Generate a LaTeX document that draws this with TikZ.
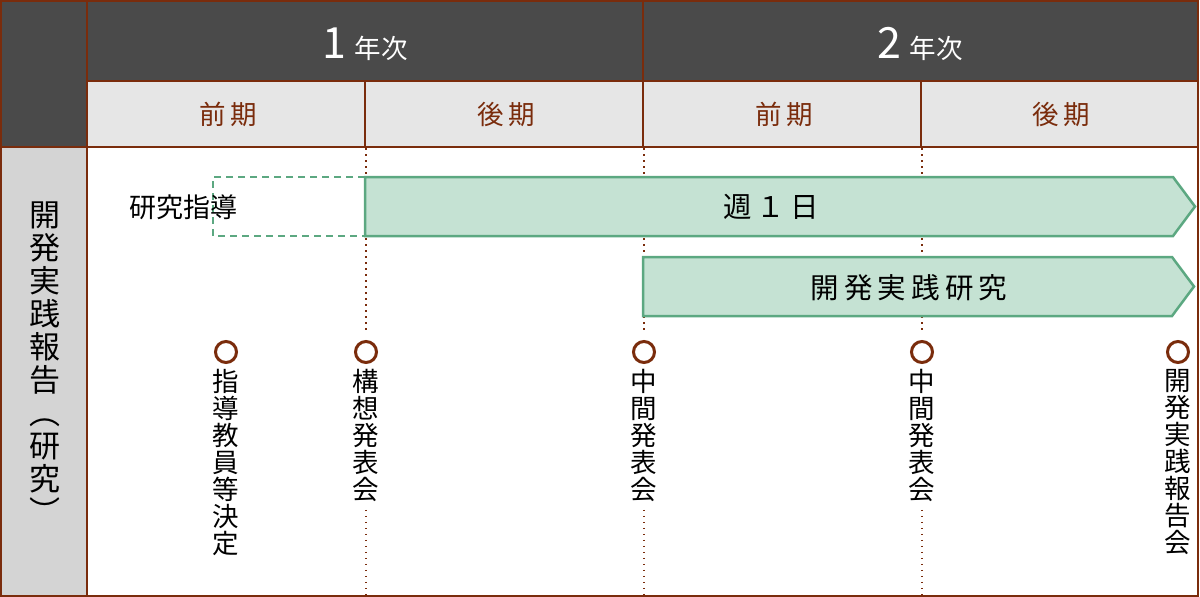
\documentclass[tikz,border=0pt]{standalone}
\usepackage{fontspec}
\setmainfont{Noto Sans CJK JP}
\newfontfamily\spacedjp[LetterSpace=18]{Noto Sans CJK JP}
\usetikzlibrary{positioning}
\definecolor{framebrown}{HTML}{7A2C0C}
\definecolor{headdark}{HTML}{4A4A4A}
\definecolor{termgray}{HTML}{E6E6E6}
\definecolor{sidegray}{HTML}{D4D4D4}
\definecolor{barfill}{HTML}{C5E2D3}
\definecolor{barline}{HTML}{5CA881}
\tikzset{
  frameline/.style={draw=framebrown, line width=2pt},
  yearlabel/.style={text=white, inner sep=0pt},
  termlabel/.style={text=framebrown, inner sep=0pt, font=\spacedjp\fontsize{26.5}{26.5}\selectfont},
  bararrow/.style={fill=barfill, draw=barline, line width=2.5pt, line join=miter},
  barlabel/.style={inner sep=0pt, font=\spacedjp\fontsize{28.5}{28.5}\selectfont},
  milestone/.style={circle, draw=framebrown, line width=3pt, minimum size=21pt, inner sep=0pt, fill=white},
  eventlabel/.style={align=center, inner sep=0pt, font=\fontsize{26.5}{27}\selectfont},
  dotline/.style={draw=framebrown, line width=1.5pt, dash pattern=on 1.5pt off 4.5pt}
}
\begin{document}
\begin{tikzpicture}[x=1pt, y=-1pt]
\useasboundingbox (0,0) rectangle (1200,597);
% header cells
\fill[headdark] (0,0) rectangle (1198,147);
\fill[termgray] (87,81) rectangle (1198,147);
\fill[sidegray] (0,147) rectangle (87,596);
% grid
\draw[frameline] (1,1) rectangle (1198,596);
\draw[frameline] (87,0) -- (87,597);
\draw[frameline] (87,81) -- (1198,81);
\draw[frameline] (0,147) -- (1198,147);
\draw[frameline] (643,0) -- (643,147);
\draw[frameline] (365,81) -- (365,147);
\draw[frameline] (921,81) -- (921,147);
% years and terms
\node[yearlabel] (year1) at (365,44) {{\fontsize{43}{43}\selectfont 1}\hspace{9pt}{\fontsize{26.5}{26.5}\selectfont 年次}};
\node[yearlabel] (year2) at (920,44) {{\fontsize{43}{43}\selectfont 2}\hspace{9pt}{\fontsize{26.5}{26.5}\selectfont 年次}};
\node[termlabel] (term1) at (228,114) {前期};
\node[termlabel] (term2) at (506,114) {後期};
\node[termlabel] (term3) at (784,114) {前期};
\node[termlabel] (term4) at (1061,114) {後期};
\node[align=center, inner sep=0pt, font=\fontsize{31}{33}\selectfont] (side) at (45,363)
  {開\\発\\実\\践\\報\\告\\︵\\研\\究\\︶};
% milestones
\node[milestone] (m1) at (226,352) {};
\node[milestone] (m2) at (366,352) {};
\node[milestone] (m3) at (644,352) {};
\node[milestone] (m4) at (922,352) {};
\node[milestone] (m5) at (1178,352) {};
\node[eventlabel, below=5pt of m1] (e1) {指\\導\\教\\員\\等\\決\\定};
\node[eventlabel, below=5pt of m2] (e2) {構\\想\\発\\表\\会};
\node[eventlabel, below=5pt of m3] (e3) {中\\間\\発\\表\\会};
\node[eventlabel, below=5pt of m4] (e4) {中\\間\\発\\表\\会};
\node[eventlabel, below=5pt of m5] (e5) {開\\発\\実\\践\\報\\告\\会};
% dotted term lines
\coordinate (top2) at (366,148);
\coordinate (top3) at (644,148);
\coordinate (top4) at (922,148);
\coordinate (bot2) at (366,597);
\coordinate (bot3) at (644,597);
\coordinate (bot4) at (922,597);
\draw[dotline, shorten >=10pt] (top2) -- (m2);
\draw[dotline, shorten >=10pt] (top3) -- (m3);
\draw[dotline, shorten >=10pt] (top4) -- (m4);
\draw[dotline, shorten <=8pt] (e2) -- (bot2);
\draw[dotline, shorten <=8pt] (e3) -- (bot3);
\draw[dotline, shorten <=8pt] (e4) -- (bot4);
% bars
\draw[draw=barline, line width=2pt, dash pattern=on 7pt off 5pt] (365,177) -- (213,177) -- (213,236) -- (365,236);
\draw[bararrow] (365,177) -- (1173,177) -- (1195,206.5) -- (1173,236) -- (365,236) -- cycle;
\draw[bararrow] (643,257) -- (1172,257) -- (1194,286.5) -- (1172,316) -- (643,316) -- cycle;
\node[inner sep=0pt, font=\fontsize{27}{27}\selectfont] (guide) at (183,207) {研究指導};
\node[barlabel] (weekly) at (771,207) {週１日};
\node[barlabel] (study) at (909,288) {開発実践研究};
\end{tikzpicture}
\end{document}
